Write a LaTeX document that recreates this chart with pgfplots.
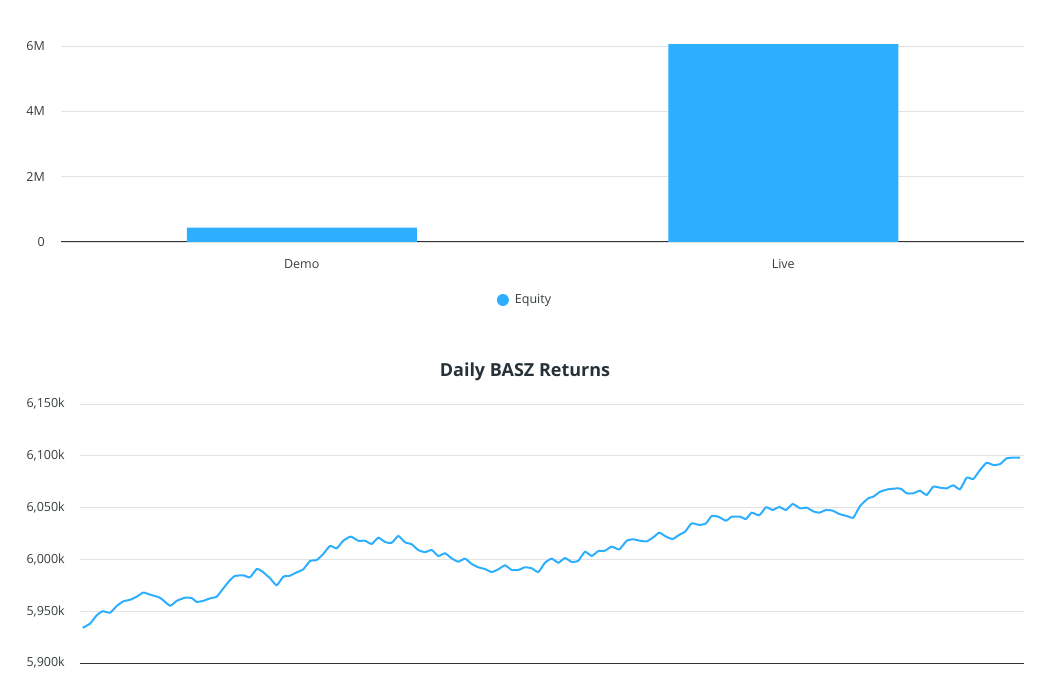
\documentclass[border=0pt]{standalone}
\usepackage{fontspec}
\setmainfont{Open Sans}
\usepackage{pgfplots}
\pgfplotsset{compat=1.18}

\definecolor{barblue}{HTML}{2EAEFF}
\definecolor{labelgray}{HTML}{373D3F}
\definecolor{titlegray}{HTML}{263238}
\definecolor{gridgray}{HTML}{E3E3E3}
\definecolor{basegray}{HTML}{333333}

\pgfplotsset{
  apex/.style={
    scale only axis,
    axis x line*=bottom,
    axis y line*=left,
    y axis line style={draw=none},
    x axis line style={basegray, line width=1pt},
    major tick length=0pt,
    ymajorgrids,
    grid style={gridgray, line width=0.9pt},
    tick label style={font=\fontsize{12.5}{14}\selectfont, text=labelgray, inner sep=0pt},
    yticklabel style={anchor=east},
  }
}

\begin{document}
\begin{tikzpicture}
\path[use as bounding box] (0,0) rectangle (1050pt,675pt);

% equity by account type
\begin{axis}[apex,
  at={(61pt,433pt)}, anchor=south west,
  width=963pt, height=202.5pt,
  xmin=-0.5, xmax=1.5, ymin=0, ymax=6.2,
  xtick={0,1}, xticklabels={Demo,Live},
  xticklabel style={anchor=north, yshift=-17.5pt},
  ytick={0,2,4,6}, yticklabels={0,2M,4M,6M},
  yticklabel style={xshift=-16pt},
  legend style={at={(0.4818,-0.2864)}, anchor=center, draw=none,
    font=\fontsize{12.5}{14}\selectfont, text=labelgray,
    legend cell align=left},
  legend image code/.code={\fill[barblue] (0em,0) circle (6pt);},
]
\addplot[ybar, bar width=230pt, fill=barblue, draw=none] coordinates {
  (0,0.44)
  (1,6.06)
};
\addlegendentry{\hspace{4pt}Equity}
\end{axis}

% daily returns
\begin{axis}[apex,
  at={(80pt,12pt)}, anchor=south west,
  width=944pt, height=259pt,
  xmin=80, xmax=1024, ymin=5900, ymax=6150,
  xtick=\empty,
  ytick={5900,5950,6000,6050,6100,6150},
  yticklabels={{5,900k},{5,950k},{6,000k},{6,050k},{6,100k},{6,150k}},
  yticklabel style={xshift=-15pt},
  title={Daily BASZ Returns},
  title style={at={(0.4714,1)}, anchor=center, yshift=26pt,
    font=\fontsize{18}{20}\selectfont\bfseries, text=titlegray},
]
\addplot[barblue, line width=2pt, smooth, tension=0.3] coordinates {
  (82.7,5934) (90,5938) (96.7,5946) (102.7,5950) (110,5948.5) (116.7,5955)
  (123.3,5959.5) (130,5961) (136.7,5964) (143.3,5968) (150,5966) (160,5963)
  (170,5955.3) (176.7,5960) (185,5963) (191.7,5962.7) (196.7,5959) (203.3,5960)
  (210,5962.4) (216.7,5964) (223.3,5972) (230,5980) (235,5984) (243.3,5984.6)
  (250,5982.7) (256.7,5990.7) (261.7,5988.8) (270,5981.8) (276.7,5975) (283.3,5983.3)
  (290,5984.3) (296.7,5987.5) (303.3,5990.4) (310,5998.5) (316.7,5999.4) (323.3,6005.2)
  (330,6013) (336.7,6010.7) (343.3,6018) (350.7,6022) (358.3,6018) (365,6018)
  (371.7,6014.9) (378.3,6021) (385,6016.8) (391.7,6016) (398.3,6022.6) (405,6016.5)
  (411.7,6014.6) (418.3,6009) (425,6007) (431.7,6009) (438.3,6003.3) (445,6005.9)
  (451.7,6001) (458.3,5997.8) (465,6000.7) (471.7,5995.6) (478.3,5992.4) (485,5990.7)
  (491.7,5987.8) (498.3,5990.4) (505,5994.3) (511.7,5989.8) (518.3,5989.8) (525,5992.4)
  (531.7,5991.4) (538.3,5987.8) (545,5996.8) (551.7,6000.7) (558.3,5996.8) (565,6001.3)
  (571.7,5997.5) (578.3,5998.7) (585,6007.4) (591.7,6003.3) (598.3,6008.1) (605,6008.4)
  (611.7,6012.3) (619.3,6009.7) (626.7,6018) (633.3,6019.4) (640,6018) (646.7,6017.4)
  (653.3,6021.3) (659.3,6025.8) (666,6022) (672.7,6019.7) (679.3,6023.8) (685,6026.7)
  (691.7,6034.8) (699.3,6033.2) (706,6034.8) (711.7,6041.9) (718.3,6041.2) (726,6037.4)
  (731.7,6041.2) (740,6041.2) (746,6039) (751.7,6045.1) (759.3,6042.6) (766,6050.3)
  (772.7,6047.7) (779.3,6050.6) (786,6047.7) (792.7,6053.5) (800,6049.3) (806.7,6049.9)
  (813.3,6046.4) (819.3,6045.1) (826,6047.7) (832.7,6047) (839.3,6043.8) (846.7,6041.9)
  (853.3,6040.3) (860,6051.5) (868.3,6059) (873.3,6060.5) (880,6065.3) (888.3,6067.7)
  (898.3,6068.6) (901.7,6067.7) (906.7,6063.8) (913.3,6063.8) (920,6066.3) (926.7,6062.2)
  (933.3,6070.2) (940,6069.2) (946.7,6068.6) (953.3,6071.5) (960,6067.7) (966.7,6078.9)
  (973.3,6077.6) (980,6086.3) (986.7,6093.3) (993.3,6091.1) (1000,6092) (1006.7,6097.6)
  (1013.3,6098.2) (1020,6098.2)
};
\end{axis}
\end{tikzpicture}
\end{document}
